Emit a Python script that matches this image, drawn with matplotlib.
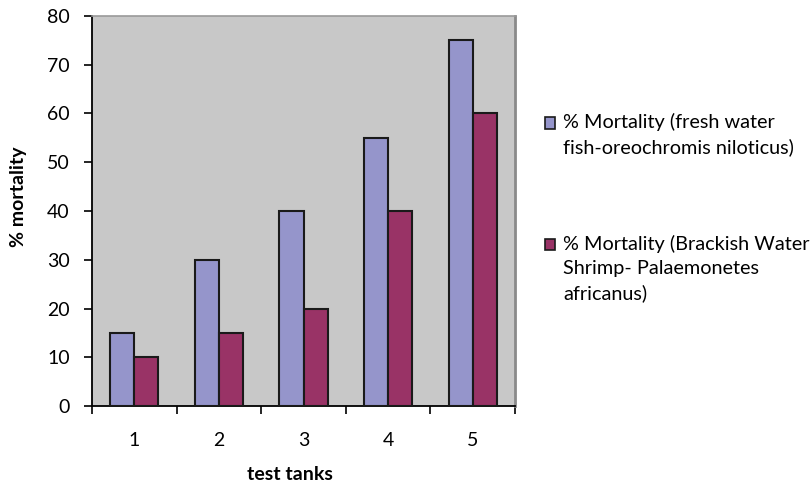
import matplotlib
matplotlib.use("Agg")
import matplotlib.pyplot as plt
from matplotlib.patches import Rectangle
import numpy as np

plt.rcParams['font.family'] = ['Lato', 'DejaVu Sans']

tanks = ['1', '2', '3', '4', '5']
fresh = [15, 30, 40, 55, 75]
brackish = [10, 15, 20, 40, 60]
labels = ['% Mortality (fresh water\nfish-oreochromis niloticus)',
          '% Mortality (Brackish Water\nShrimp- Palaemonetes\nafricanus)']
colors = ['#9595CB', '#993366']

fig = plt.figure(figsize=(8.1, 4.88), dpi=100)
ax = fig.add_axes([92/810, 1-406/488, (515-92)/810, (406-16)/488])
ax.set_facecolor('#C8C8C8')

x = np.arange(len(tanks))
w = 1/3.5
ax.bar(x - w/2, fresh, w, color=colors[0], edgecolor='#1a1a1a', linewidth=1.5, zorder=3)
ax.bar(x + w/2, brackish, w, color=colors[1], edgecolor='#1a1a1a', linewidth=1.5, zorder=3)

ax.set_xlim(-0.5, len(tanks) - 0.5)
ax.set_ylim(0, 80)
ax.set_yticks(np.arange(0, 81, 10))
ax.set_xticks(x)
ax.set_xticklabels(tanks)
ax.set_xticks(np.arange(-0.5, len(tanks), 1), minor=True)
ax.tick_params(axis='x', which='major', length=0, pad=19, labelsize=14)
ax.tick_params(axis='x', which='minor', length=6, width=1.2, color='black')
ax.tick_params(axis='y', length=6, width=1.2, pad=10, labelsize=14)

for s in ['left', 'bottom']:
    ax.spines[s].set_color('black')
    ax.spines[s].set_linewidth(1.3)
ax.spines['top'].set_color('#9a9a9a')
ax.spines['top'].set_linewidth(1.2)
ax.spines['right'].set_color('#8a8a8a')
ax.spines['right'].set_linewidth(2)

fig.text(19/810, 1-197/488, '% mortality', rotation=90, ha='center', va='center',
         fontsize=14, fontweight='bold')
fig.text(290/810, 1-474/488, 'test tanks', ha='center', va='center',
         fontsize=14, fontweight='bold')

# legend
entry_tops = [123, 245]
for lab, col, yc in zip(labels, colors, entry_tops):
    fig.patches.append(Rectangle((545/810, 1-(yc+5.5)/488), 10/810, 11/488,
                                 transform=fig.transFigure, facecolor=col,
                                 edgecolor='#1a1a1a', linewidth=1.2))
    fig.text(563/810, 1-(yc-10)/488, lab, ha='left', va='top', fontsize=14.3,
             linespacing=1.5)

fig.savefig('out.png', dpi=100)
